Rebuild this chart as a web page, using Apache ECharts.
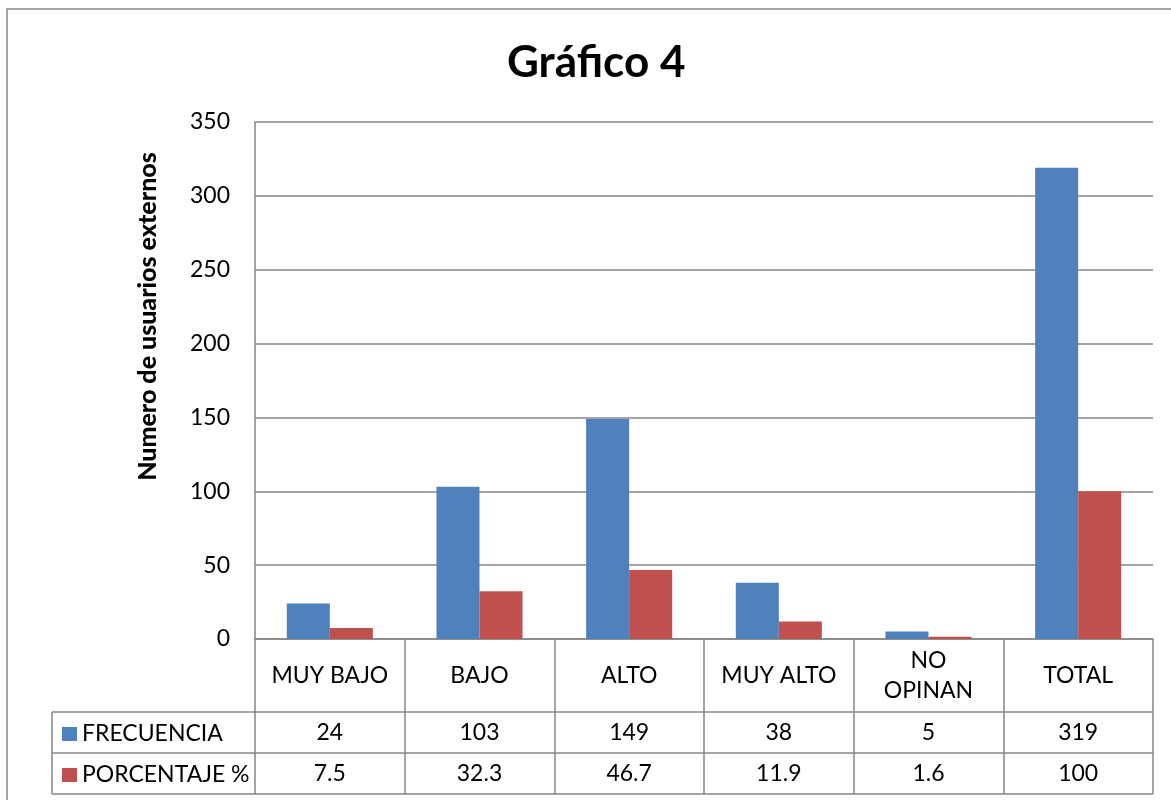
<!DOCTYPE html>
<html>
<head>
<meta charset="utf-8">
<script src="https://cdn.jsdelivr.net/npm/echarts@6/dist/echarts.min.js"></script>
<style>html,body{margin:0;padding:0;background:#fff}#c{width:1171px;height:800px}</style>
</head>
<body>
<div id="c"></div>
<script>
const categories = ['MUY BAJO', 'BAJO', 'ALTO', 'MUY ALTO', 'NO\nOPINAN', 'TOTAL'];
const seriesNames = ['FRECUENCIA', 'PORCENTAJE %'];
const frecuencia = [24, 103, 149, 38, 5, 319];
const porcentaje = [7.5, 32.3, 46.7, 11.9, 1.6, 100];
const titleText = 'Gráfico 4';
const yAxisName = 'Numero de usuarios externos';

const FONT = 'Lato, "Open Sans", sans-serif';
const GRAY = '#868686';
const BLUE = '#4F81BD';
const RED = '#C0504D';

const chart = echarts.init(document.getElementById('c'));

const gridL = 255, gridR = 1153, gridT = 122, gridB = 639;
const rowY = [712, 753, 794];
const tableLeft = 52;

function hline(y) {
  return { type: 'line', shape: { x1: tableLeft, y1: y, x2: gridR, y2: y }, style: { stroke: GRAY, lineWidth: 1.5 }, silent: true };
}

const option = {
  animation: false,
  backgroundColor: '#fff',
  color: [BLUE, RED],
  title: {
    text: titleText, left: 502, top: 36,
    textStyle: { fontFamily: FONT, fontSize: 44, fontWeight: 'bold', color: '#000' }
  },
  legend: {
    orient: 'vertical', left: 57, top: 717,
    itemWidth: 15, itemHeight: 14, itemGap: 17,
    icon: 'rect',
    textStyle: { fontFamily: FONT, fontSize: 23, lineHeight: 24, color: '#000', padding: [0,0,0,0] },
    data: seriesNames
  },
  grid: { left: gridL, right: 1171 - gridR, top: gridT, bottom: 800 - gridB, containLabel: false },
  xAxis: [
    {
      type: 'category', data: categories, position: 'bottom',
      axisLine: { show: true, lineStyle: { color: GRAY, width: 1.5 } },
      axisTick: { show: true, interval: 0, length: 155, lineStyle: { color: GRAY, width: 1.5 } },
      axisLabel: { interval: 0, margin: 37, verticalAlign: 'middle', fontFamily: FONT, fontSize: 23, lineHeight: 30, color: '#000' }
    },
    {
      type: 'category', data: categories, position: 'bottom',
      axisLine: { show: false }, axisTick: { show: false },
      axisLabel: { interval: 0, margin: 94, verticalAlign: 'middle', fontFamily: FONT, fontSize: 23, color: '#000',
        formatter: (v, i) => String(frecuencia[i]) }
    },
    {
      type: 'category', data: categories, position: 'bottom',
      axisLine: { show: false }, axisTick: { show: false },
      axisLabel: { interval: 0, margin: 135, verticalAlign: 'middle', fontFamily: FONT, fontSize: 23, color: '#000',
        formatter: (v, i) => String(porcentaje[i]) }
    }
  ],
  yAxis: {
    type: 'value', min: 0, max: 350, interval: 50,
    name: yAxisName, nameLocation: 'middle', nameGap: 95, nameRotate: 90,
    nameTextStyle: { fontFamily: FONT, fontSize: 25, fontWeight: 900, color: '#000', padding: [0, 0, 0, 128] },
    axisLine: { show: true, lineStyle: { color: GRAY, width: 1.5 } },
    axisTick: { show: false },
    axisLabel: { margin: 25, fontFamily: FONT, fontSize: 23, color: '#000' },
    splitLine: { show: true, lineStyle: { color: GRAY, width: 1.5 } }
  },
  series: [
    { name: seriesNames[0], type: 'bar', data: frecuencia, barGap: '0%', barCategoryGap: '42.5%', itemStyle: { color: BLUE } },
    { name: seriesNames[1], type: 'bar', data: porcentaje, barGap: '0%', barCategoryGap: '42.5%', itemStyle: { color: RED } }
  ],
  graphic: [
    { type: 'rect', shape: { x: 7, y: 9, width: 1300, height: 1000 }, style: { fill: 'none', stroke: GRAY, lineWidth: 1.5 }, silent: true, z: -10 },
    hline(rowY[0]), hline(rowY[1]), hline(rowY[2]),
    { type: 'line', shape: { x1: tableLeft, y1: rowY[0], x2: tableLeft, y2: rowY[2] }, style: { stroke: GRAY, lineWidth: 1.5 }, silent: true }
  ]
};
chart.setOption(option);
</script>
</body>
</html>
